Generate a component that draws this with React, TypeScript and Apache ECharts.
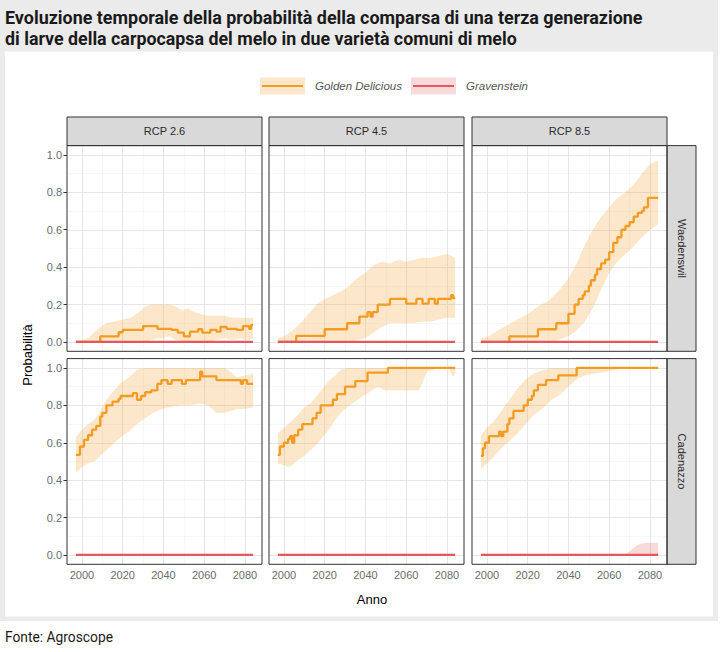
import React, { useEffect, useRef } from "react";
import * as echarts from "echarts";

// ---------- DATA ----------
const titleLines = [
  "Evoluzione temporale della probabilità della comparsa di una terza generazione",
  "di larve della carpocapsa del melo in due varietà comuni di melo",
];
const sourceText = "Fonte: Agroscope";
const scenarios = ["RCP 2.6", "RCP 4.5", "RCP 8.5"];
const sites = ["Waedenswil", "Cadenazzo"];
const varieties = ["Golden Delicious", "Gravenstein"];
const xAxisTitle = "Anno";
const yAxisTitle = "Probabilità";

const xRange = [1992.65, 2088.35];
const yRange = [-0.05, 1.05];
const xTicks = [2000, 2020, 2040, 2060, 2080];
const xMinor = [2010, 2030, 2050, 2070];
const yTicks = [0, 0.2, 0.4, 0.6, 0.8, 1.0];
const yMinor = [0.1, 0.3, 0.5, 0.7, 0.9];

// Golden Delicious mean lines: [year, probability] (value holds until next point)
const goldenWae26 = [[1997,0],[2009,0.03],[2018,0.052],[2020,0.065],[2030,0.085],[2037,0.07],[2044,0.065],[2047,0.05],[2050,0.03],[2053,0.055],[2057,0.068],[2059,0.05],[2063,0.065],[2066,0.055],[2068,0.08],[2071,0.07],[2076,0.065],[2079,0.085],[2082,0.07],[2083,0.09],[2084,0.09]];
const goldenWae45 = [[1997,0],[2006,0.032],[2020,0.068],[2031,0.1],[2037,0.135],[2041,0.16],[2042.5,0.135],[2043.5,0.16],[2046,0.2],[2052,0.23],[2060,0.205],[2065,0.23],[2068,0.205],[2071,0.23],[2074,0.205],[2075.5,0.23],[2082,0.25],[2083,0.235],[2084,0.235]];
const goldenWae85 = [[1997,0],[2011,0.03],[2025,0.068],[2034,0.1],[2040,0.15],[2043,0.2],[2045,0.23],[2047,0.25],[2048,0.27],[2050,0.3],[2051,0.33],[2053,0.36],[2054,0.39],[2056,0.42],[2058,0.44],[2060,0.48],[2062,0.53],[2064,0.56],[2066,0.6],[2068,0.62],[2070,0.64],[2072,0.67],[2074,0.69],[2076,0.7],[2077,0.72],[2079,0.77],[2084,0.77]];
const goldenCad26 = [[1997,0.535],[1999,0.58],[2001,0.615],[2003,0.64],[2005,0.67],[2007,0.69],[2009,0.74],[2010,0.76],[2012,0.8],[2015,0.82],[2018,0.835],[2019,0.85],[2023,0.85],[2025,0.865],[2027,0.83],[2029,0.85],[2031,0.87],[2034,0.88],[2037,0.915],[2039,0.935],[2042,0.915],[2044,0.935],[2049,0.915],[2051,0.935],[2058,0.98],[2059,0.955],[2066,0.935],[2076,0.935],[2078,0.915],[2079,0.935],[2081,0.915],[2084,0.915]];
const goldenCad45 = [[1997,0.535],[1998,0.58],[2000,0.6],[2002,0.62],[2003,0.635],[2004,0.6],[2005,0.64],[2007,0.67],[2009,0.7],[2014,0.73],[2016,0.76],[2018,0.8],[2024,0.83],[2026,0.86],[2030,0.9],[2035,0.93],[2041,0.975],[2051,1.0],[2084,1.0]];
const goldenCad85 = [[1997,0.53],[1998,0.57],[1999,0.6],[2001,0.635],[2006,0.66],[2007,0.635],[2008,0.66],[2010,0.7],[2011,0.73],[2013,0.77],[2017,0.77],[2018,0.8],[2020,0.83],[2022,0.85],[2023,0.88],[2025,0.91],[2029,0.935],[2035,0.96],[2044,1.0],[2084,1.0]];

// Golden Delicious uncertainty bands: [year, lower, upper]
const bandWae26 = [[1997,0,0],[2000,0,0.01],[2003,0,0.02],[2006,0,0.05],[2009,0,0.08],[2012,0,0.1],[2016,0,0.11],[2020,0,0.12],[2024,0,0.13],[2028,0,0.16],[2031,0,0.19],[2034,0.01,0.2],[2037,0.02,0.2],[2040,0.02,0.2],[2043,0.03,0.2],[2046,0.01,0.19],[2049,0,0.17],[2052,0,0.18],[2055,0,0.16],[2058,0,0.15],[2062,0,0.14],[2066,0.01,0.14],[2070,0.02,0.14],[2074,0.01,0.13],[2078,0.02,0.13],[2081,0.01,0.13],[2084,0.02,0.13]];
const bandWae45 = [[1997,0,0.02],[2000,0,0.03],[2004,0,0.06],[2008,0,0.1],[2012,0,0.15],[2016,0,0.2],[2020,0,0.23],[2024,0,0.25],[2028,0,0.27],[2032,0,0.3],[2036,0.01,0.34],[2040,0.02,0.37],[2044,0.05,0.41],[2048,0.08,0.43],[2052,0.1,0.42],[2056,0.1,0.44],[2060,0.1,0.43],[2064,0.1,0.44],[2068,0.11,0.45],[2072,0.11,0.45],[2076,0.12,0.46],[2080,0.13,0.47],[2084,0.13,0.45]];
const bandWae85 = [[1997,0,0.02],[2001,0,0.03],[2005,0,0.06],[2010,0,0.09],[2015,0,0.12],[2020,0,0.15],[2025,0,0.19],[2030,0,0.22],[2035,0.01,0.27],[2040,0.03,0.34],[2044,0.06,0.42],[2048,0.11,0.52],[2052,0.18,0.6],[2056,0.28,0.67],[2060,0.37,0.72],[2064,0.43,0.77],[2068,0.47,0.8],[2072,0.51,0.84],[2076,0.56,0.9],[2080,0.6,0.95],[2084,0.63,0.97]];
const bandCad26 = [[1997,0.44,0.63],[2000,0.47,0.67],[2003,0.49,0.7],[2006,0.5,0.72],[2009,0.53,0.77],[2012,0.56,0.83],[2015,0.59,0.87],[2019,0.63,0.92],[2023,0.66,0.95],[2027,0.7,0.99],[2031,0.73,1.0],[2035,0.76,1.0],[2039,0.78,1.0],[2043,0.79,1.0],[2048,0.8,1.0],[2053,0.8,1.0],[2058,0.81,1.0],[2062,0.8,1.0],[2066,0.76,1.0],[2070,0.76,1.0],[2073,0.77,0.98],[2076,0.78,0.95],[2080,0.78,0.96],[2084,0.79,0.97]];
const bandCad45 = [[1997,0.49,0.65],[2000,0.48,0.68],[2003,0.47,0.71],[2006,0.5,0.74],[2010,0.53,0.79],[2013,0.56,0.81],[2016,0.59,0.85],[2019,0.63,0.89],[2022,0.67,0.93],[2025,0.72,0.96],[2028,0.76,0.99],[2031,0.79,1.0],[2035,0.82,1.0],[2039,0.85,1.0],[2043,0.88,1.0],[2046,0.9,1.0],[2050,0.88,1.0],[2055,0.88,1.0],[2060,0.88,1.0],[2066,0.88,1.0],[2068,0.92,1.0],[2070,0.98,1.0],[2076,1.0,1.0],[2081,1.0,1.0],[2083,0.95,1.0],[2084,0.97,1.0]];
const bandCad85 = [[1997,0.46,0.64],[2000,0.49,0.68],[2003,0.52,0.71],[2007,0.57,0.77],[2011,0.61,0.83],[2015,0.65,0.89],[2019,0.7,0.94],[2023,0.75,0.97],[2028,0.79,0.99],[2032,0.83,1.0],[2036,0.86,1.0],[2040,0.9,1.0],[2044,0.94,1.0],[2048,0.96,1.0],[2053,0.97,1.0],[2058,0.98,1.0],[2063,0.99,1.0],[2067,1.0,1.0],[2084,1.0,1.0]];

// Gravenstein
const gravLine = [[1997,0],[2084,0]];
const gravBandCad85 = [[2067,0,0],[2070,0,0.02],[2074,0,0.055],[2078,0,0.065],[2084,0,0.065]];

// ---------- STYLE ----------
const ORANGE = "#f49b22";
const RED = "#e5575c";
const ORANGE_BAND = "rgba(244,155,34,0.24)";
const RED_BAND = "rgba(229,87,92,0.22)";
const AXIS_FONT = "'Liberation Sans', Arial, sans-serif";
const TITLE_FONT = "Roboto, 'Liberation Sans', sans-serif";

const colLeft = [67, 269, 472];
const rowTop = [145.6, 358.6];
const PW = 195;
const PH = 205.7;

const panels = [
  { row: 0, col: 0, golden: goldenWae26, gBand: bandWae26, grav: gravLine, rBand: null },
  { row: 0, col: 1, golden: goldenWae45, gBand: bandWae45, grav: gravLine, rBand: null },
  { row: 0, col: 2, golden: goldenWae85, gBand: bandWae85, grav: gravLine, rBand: null },
  { row: 1, col: 0, golden: goldenCad26, gBand: bandCad26, grav: gravLine, rBand: null },
  { row: 1, col: 1, golden: goldenCad45, gBand: bandCad45, grav: gravLine, rBand: null },
  { row: 1, col: 2, golden: goldenCad85, gBand: bandCad85, grav: gravLine, rBand: gravBandCad85 },
];

function measure(text: string, font: string) {
  const ctx = document.createElement("canvas").getContext("2d")!;
  ctx.font = font;
  return ctx.measureText(text).width || 1;
}

function bandSeries(rows: number[][], idx: number, fill: string, name: string) {
  return {
    type: "custom",
    name,
    xAxisIndex: idx,
    yAxisIndex: idx,
    z: 2,
    silent: true,
    data: rows,
    encode: { x: 0, y: [1, 2] },
    renderItem: (params: any, api: any) => {
      if (params.dataIndex !== 0) return null;
      const upper = rows.map((r) => api.coord([r[0], r[2]]));
      const lower = rows.map((r) => api.coord([r[0], r[1]])).reverse();
      return {
        type: "polygon",
        shape: { points: upper.concat(lower) },
        style: { fill, stroke: "none" },
      };
    },
  };
}

export default function App() {
  const ref = useRef<HTMLDivElement>(null);
  useEffect(() => {
    document.body.style.margin = "0";
    const chart = echarts.init(ref.current!, null, { renderer: "svg" });

    const grids: any[] = [];
    const xAxes: any[] = [];
    const yAxes: any[] = [];
    const series: any[] = [];
    const graphics: any[] = [];

    // background frame
    graphics.push({ type: "rect", shape: { x: 0, y: 0, width: 718, height: 621 }, style: { fill: "#ebebeb" }, z: -20 });
    graphics.push({ type: "rect", shape: { x: 5, y: 51.5, width: 708, height: 565 }, style: { fill: "#ffffff" }, z: -19 });

    const titleFont = `bold 18.5px ${TITLE_FONT}`;
    const titleWidths = [638, 512];
    titleLines.forEach((t, i) => {
      const sx = titleWidths[i] / measure(t, titleFont);
      graphics.push({
        type: "text", x: 5, y: 17 + i * 21, z: 50, scaleX: sx, scaleY: 1,
        style: { text: t, fill: "#1a1a1a", font: titleFont, textAlign: "left", textVerticalAlign: "middle" },
      });
    });
    const srcFont = `15px ${TITLE_FONT}`;
    graphics.push({
      type: "text", x: 5, y: 637, z: 50, scaleX: 108 / measure(sourceText, srcFont), scaleY: 1,
      style: { text: sourceText, fill: "#1a1a1a", font: srcFont, textAlign: "left", textVerticalAlign: "middle" },
    });

    // legend
    const legendKeys = [
      { x: 260, textX: 315, color: ORANGE, band: ORANGE_BAND },
      { x: 411, textX: 466, color: RED, band: RED_BAND },
    ];
    legendKeys.forEach((k, i) => {
      graphics.push({ type: "rect", z: 40, shape: { x: k.x, y: 77.5, width: 45, height: 17 }, style: { fill: k.band } });
      graphics.push({ type: "line", z: 41, shape: { x1: k.x + 2, y1: 86, x2: k.x + 43, y2: 86 }, style: { stroke: k.color, lineWidth: 2.2 } });
      graphics.push({
        type: "text", x: k.textX, y: 86, z: 41,
        style: { text: varieties[i], fill: "#555555", font: `italic 11.5px ${AXIS_FONT}`, textAlign: "left", textVerticalAlign: "middle" },
      });
    });

    // strips
    scenarios.forEach((s, c) => {
      graphics.push({ type: "rect", z: 40, shape: { x: colLeft[c], y: 117, width: PW, height: rowTop[0] - 117 }, style: { fill: "#d9d9d9", stroke: "#333333", lineWidth: 1 } });
      graphics.push({
        type: "text", x: colLeft[c] + PW / 2, y: (117 + rowTop[0]) / 2, z: 41,
        style: { text: s, fill: "#2b2b2b", font: `11px ${AXIS_FONT}`, textAlign: "center", textVerticalAlign: "middle" },
      });
    });
    sites.forEach((s, r) => {
      const sx = colLeft[2] + PW;
      graphics.push({ type: "rect", z: 40, shape: { x: sx, y: rowTop[r], width: 29, height: PH }, style: { fill: "#d9d9d9", stroke: "#333333", lineWidth: 1 } });
      graphics.push({
        type: "text", x: sx + 14.5, y: rowTop[r] + PH / 2, z: 41, rotation: -Math.PI / 2,
        style: { text: s, fill: "#2b2b2b", font: `11px ${AXIS_FONT}`, textAlign: "center", textVerticalAlign: "middle" },
      });
    });

    // axis titles
    graphics.push({
      type: "text", x: 27, y: 355, z: 41, rotation: Math.PI / 2,
      style: { text: yAxisTitle, fill: "#000000", font: `13px ${AXIS_FONT}`, textAlign: "center", textVerticalAlign: "middle" },
    });
    graphics.push({
      type: "text", x: 372, y: 599, z: 41,
      style: { text: xAxisTitle, fill: "#000000", font: `13px ${AXIS_FONT}`, textAlign: "center", textVerticalAlign: "middle" },
    });

    panels.forEach((p, i) => {
      const left = colLeft[p.col];
      const top = rowTop[p.row];
      grids.push({ left, top, width: PW, height: PH, containLabel: false, outerBoundsMode: "none", show: false });
      graphics.push({ type: "rect", z: 45, shape: { x: left, y: top, width: PW, height: PH }, style: { fill: "none", stroke: "#333333", lineWidth: 1 } });

      xAxes.push({
        type: "value", gridIndex: i, min: xRange[0], max: xRange[1],
        axisLine: { show: false }, splitLine: { show: false },
        axisTick: { show: p.row === 1, customValues: xTicks, length: 3.5, lineStyle: { color: "#333333", width: 1 } },
        axisLabel: { show: p.row === 1, customValues: xTicks, color: "#6b6b6b", fontSize: 11, fontFamily: AXIS_FONT, margin: 5, formatter: (v: number) => String(Math.round(v)) },
      });
      yAxes.push({
        type: "value", gridIndex: i, min: yRange[0], max: yRange[1],
        axisLine: { show: false }, splitLine: { show: false },
        axisTick: { show: p.col === 0, customValues: yTicks, length: 3.5, lineStyle: { color: "#333333", width: 1 } },
        axisLabel: { show: p.col === 0, customValues: yTicks, color: "#6b6b6b", fontSize: 11, fontFamily: AXIS_FONT, margin: 5, formatter: (v: number) => v.toFixed(1) },
      });

      const gridLineData = [
        ...xMinor.map((v) => ({ xAxis: v, lineStyle: { color: "#f3f3f3", width: 0.7, type: "solid" } })),
        ...yMinor.map((v) => ({ yAxis: v, lineStyle: { color: "#f3f3f3", width: 0.7, type: "solid" } })),
        ...xTicks.map((v) => ({ xAxis: v, lineStyle: { color: "#e6e6e6", width: 1, type: "solid" } })),
        ...yTicks.map((v) => ({ yAxis: v, lineStyle: { color: "#e6e6e6", width: 1, type: "solid" } })),
      ];

      series.push(bandSeries(p.gBand, i, ORANGE_BAND, varieties[0] + " band"));
      if (p.rBand) series.push(bandSeries(p.rBand, i, RED_BAND, varieties[1] + " band"));
      series.push({
        type: "line", name: varieties[0], xAxisIndex: i, yAxisIndex: i, z: 3,
        data: p.golden, step: "end", showSymbol: false, symbol: "none", silent: true,
        lineStyle: { color: ORANGE, width: 2.3 },
      });
      series.push({
        type: "line", name: varieties[1], xAxisIndex: i, yAxisIndex: i, z: 4,
        data: p.grav, showSymbol: false, symbol: "none", silent: true,
        lineStyle: { color: RED, width: 2.3 },
        markLine: { silent: true, symbol: ["none", "none"], label: { show: false }, z: 1, animation: false, data: gridLineData },
      });
    });

    chart.setOption({
      animation: false,
      backgroundColor: "#ffffff",
      grid: grids,
      xAxis: xAxes,
      yAxis: yAxes,
      series,
      graphic: { elements: graphics },
    });
    return () => chart.dispose();
  }, []);
  return <div ref={ref} style={{ width: 720, height: 652 }} />;
}
